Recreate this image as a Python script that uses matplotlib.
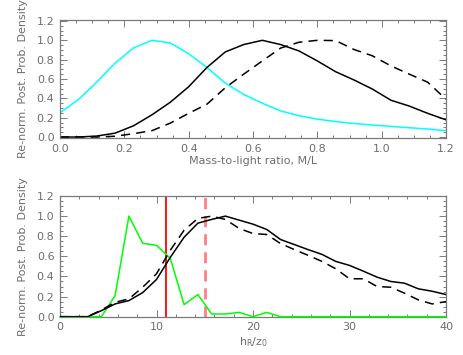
import matplotlib
matplotlib.use("Agg")
import matplotlib.pyplot as plt
from matplotlib.ticker import MultipleLocator

# ---- Top panel data (M/L grid) ----
ml = [0.0, 0.057, 0.114, 0.171, 0.229, 0.286, 0.343, 0.400, 0.457, 0.514, 0.571,
      0.629, 0.686, 0.743, 0.800, 0.857, 0.914, 0.971, 1.029, 1.086, 1.143, 1.200]
ml_cyan = [0.25, 0.387, 0.567, 0.763, 0.922, 1.0, 0.973, 0.861, 0.719, 0.557, 0.44,
           0.35, 0.27, 0.22, 0.185, 0.16, 0.14, 0.124, 0.11, 0.096, 0.083, 0.066]
ml_solid = [0.0, 0.0, 0.01, 0.04, 0.117, 0.23, 0.36, 0.52, 0.72, 0.88, 0.956,
            1.0, 0.956, 0.89, 0.787, 0.675, 0.59, 0.496, 0.38, 0.32, 0.245, 0.178]
ml_dashed = [0.0, 0.0, 0.0, 0.008, 0.035, 0.066, 0.144, 0.245, 0.34, 0.51, 0.65,
             0.787, 0.92, 0.98, 1.0, 0.997, 0.905, 0.84, 0.735, 0.65, 0.567, 0.39]

# ---- Bottom panel data (h_R/z_0 grid) ----
hz = [0.0, 1.43, 2.86, 4.29, 5.71, 7.14, 8.57, 10.0, 11.43, 12.86, 14.29, 15.71,
      17.14, 18.57, 20.0, 21.43, 22.86, 24.29, 25.71, 27.14, 28.57, 30.0, 31.43,
      32.86, 34.29, 35.71, 37.14, 38.57, 40.0]
hz_solid = [0.0, 0.0, 0.0, 0.06, 0.127, 0.16, 0.24, 0.37, 0.59, 0.79, 0.93, 0.967,
            1.0, 0.96, 0.92, 0.867, 0.767, 0.717, 0.667, 0.62, 0.55, 0.51, 0.453,
            0.393, 0.35, 0.333, 0.277, 0.253, 0.22]
hz_dashed = [0.0, 0.0, 0.0, 0.067, 0.143, 0.177, 0.293, 0.427, 0.66, 0.86, 0.977, 1.0,
             0.967, 0.877, 0.827, 0.817, 0.727, 0.667, 0.61, 0.55, 0.477, 0.377, 0.377,
             0.3, 0.293, 0.233, 0.167, 0.127, 0.15]
hz_green = [0.0, 0.0, 0.0, 0.0, 0.21, 1.0, 0.73, 0.71, 0.58, 0.12, 0.22, 0.027,
            0.027, 0.043, 0.0, 0.043, 0.0, 0.0, 0.0, 0.0, 0.0, 0.0, 0.0, 0.0, 0.0,
            0.0, 0.0, 0.0, 0.0]
vline_solid = 11.0
vline_dashed = 15.0

AX = "#7a7a7a"
TXT = "#6e6e6e"
plt.rcParams['font.family'] = ['DejaVu Sans']

fig = plt.figure(figsize=(4.63, 3.55), dpi=100)
W, H = 463.0, 355.0
ax1 = fig.add_axes([60 / W, (H - 138) / H, 386 / W, 118 / H])
ax2 = fig.add_axes([60 / W, (H - 316.7) / H, 386 / W, 120.7 / H])

def style(ax, xmaj, xmin):
    for s in ax.spines.values():
        s.set_color(AX)
        s.set_linewidth(0.9)
    ax.xaxis.set_major_locator(MultipleLocator(xmaj))
    ax.xaxis.set_minor_locator(MultipleLocator(xmin))
    ax.yaxis.set_major_locator(MultipleLocator(0.2))
    ax.yaxis.set_minor_locator(MultipleLocator(0.05))
    ax.tick_params(which='both', direction='in', top=True, right=True,
                   color=AX, labelcolor=TXT, labelsize=8, width=0.7)
    ax.tick_params(which='major', length=5, pad=4)
    ax.tick_params(which='minor', length=2.5)
    ax.set_ylabel("Re-norm. Post. Prob. Density", color=TXT, fontsize=8, labelpad=6)

# Top panel
ax1.plot(ml, ml_cyan, color="#00ffff", lw=1.1)
ax1.plot(ml, ml_solid, color="black", lw=1.1)
ax1.plot(ml, ml_dashed, color="black", lw=1.1, dashes=(6, 4))
ax1.set_xlim(0, 1.2)
ax1.set_ylim(-0.01, 1.21)
style(ax1, 0.2, 0.05)
ax1.xaxis.set_major_formatter(matplotlib.ticker.FormatStrFormatter('%.1f'))
ax1.yaxis.set_major_formatter(matplotlib.ticker.FormatStrFormatter('%.1f'))
ax1.set_xlabel("Mass-to-light ratio, M/L", color=TXT, fontsize=8, labelpad=2)

# Bottom panel
ax2.plot(hz, hz_green, color="#00ff00", lw=1.1, clip_on=False, zorder=3)
ax2.plot(hz, hz_solid, color="black", lw=1.1, zorder=3)
ax2.plot(hz, hz_dashed, color="black", lw=1.1, dashes=(6, 4), zorder=3)
ax2.axvline(vline_solid, color="#ff0000", lw=1.3, zorder=2)
ax2.axvline(vline_dashed, color="#ff8080", lw=2.0, dashes=(4, 2.5), zorder=2)
ax2.set_xlim(0, 40)
ax2.set_ylim(0.0, 1.2)
style(ax2, 10, 2)
ax2.yaxis.set_major_formatter(matplotlib.ticker.FormatStrFormatter('%.1f'))
ax2.set_xlabel("$\\mathregular{h_R/z_0}$", color=TXT, fontsize=8, labelpad=2)

fig.savefig("out.png", dpi=100)
